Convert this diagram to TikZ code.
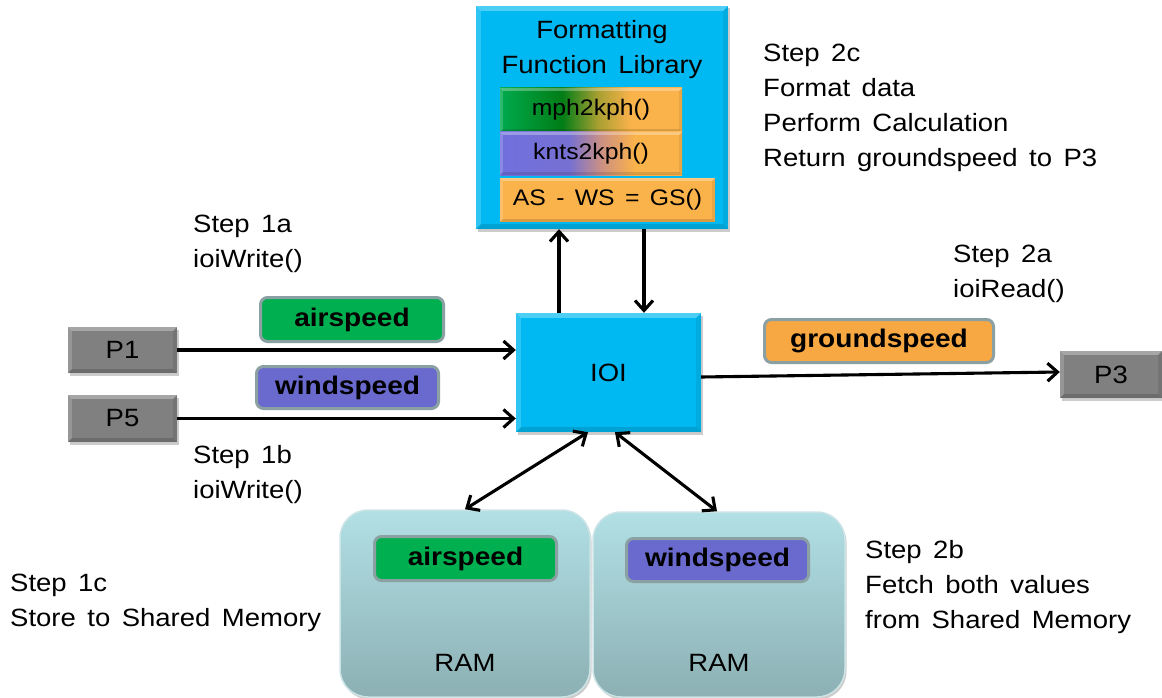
\documentclass[tikz,border=0pt]{standalone}
\usepackage{fontspec}
\setmainfont{Liberation Sans}[FakeStretch=1.1, WordSpace=1.5]
\usetikzlibrary{arrows.meta,shadows}

% palette
\definecolor{ioicyan}{RGB}{0,185,242}
\definecolor{pgray}{RGB}{128,128,128}
\definecolor{tagborder}{RGB}{138,160,162}
\definecolor{airgreen}{RGB}{0,176,80}
\definecolor{windblue}{RGB}{106,106,206}
\definecolor{gsorange}{RGB}{247,168,66}
\definecolor{fnorange}{RGB}{250,178,74}
\definecolor{mphA}{RGB}{0,170,78}
\definecolor{mphB}{RGB}{0,125,22}
\definecolor{mphC}{RGB}{170,160,50}
\definecolor{kntA}{RGB}{112,112,222}
\definecolor{kntB}{RGB}{118,112,210}
\definecolor{kntC}{RGB}{205,145,130}
\definecolor{ramtop}{RGB}{178,224,229}
\definecolor{rambot}{RGB}{140,176,180}
\definecolor{ramedge}{RGB}{205,228,231}

% gradients of the two conversion functions (middle 25--75bp spans the box)
\pgfdeclarehorizontalshading{mphshade}{100bp}{color(0bp)=(mphA); color(25bp)=(mphA); color(42bp)=(mphB); color(52bp)=(mphC); color(61bp)=(fnorange); color(100bp)=(fnorange)}
\pgfdeclarehorizontalshading{kntshade}{100bp}{color(0bp)=(kntA); color(25bp)=(kntA); color(44bp)=(kntB); color(53bp)=(kntC); color(62bp)=(fnorange); color(100bp)=(fnorange)}

% raised edges of a box: whitened top/left, darkened bottom/right
% #1 node, #2 light opacity, #3 dark opacity, #4 edge depth
\newcommand{\bevelbox}[4]{%
  \fill[white, opacity=#2] (#1.north west) -- (#1.north east) -- ([shift={(-#4,#4)}]#1.north east) -- ([shift={(#4,#4)}]#1.north west) -- cycle;
  \fill[white, opacity=#2*0.6] (#1.north west) -- ([shift={(#4,#4)}]#1.north west) -- ([shift={(#4,-#4)}]#1.south west) -- (#1.south west) -- cycle;
  \fill[black, opacity=#3] (#1.south west) -- (#1.south east) -- ([shift={(-#4,-#4)}]#1.south east) -- ([shift={(#4,-#4)}]#1.south west) -- cycle;
  \fill[black, opacity=#3*0.6] (#1.north east) -- ([shift={(-#4,#4)}]#1.north east) -- ([shift={(-#4,-#4)}]#1.south east) -- (#1.south east) -- cycle;
}

\begin{document}
\begin{tikzpicture}[x=1pt,y=-1pt,
  plain/.style={font=\fontsize{25}{35}\selectfont},
  steptext/.style={plain, anchor=north west, inner sep=0pt, align=left},
  softshadow/.style={drop shadow={shadow xshift=1.5pt, shadow yshift=-2.5pt, opacity=0.2, fill=black}},
  ioibox/.style={plain, fill=ioicyan, inner sep=0pt, softshadow},
  procbox/.style={plain, fill=pgray, inner sep=0pt, softshadow},
  fnbox/.style={font=\fontsize{22.5}{26}\selectfont, inner sep=0pt},
  tag/.style={font=\fontsize{25.5}{30}\selectfont\bfseries, draw=tagborder, line width=3pt,
              rounded corners=7pt, inner sep=0pt},
  ramblock/.style={plain, draw=ramedge, line width=1.5pt, rounded corners=28pt,
                   top color=ramtop, bottom color=rambot, inner sep=0pt, softshadow},
  tipshape/.style={},
  arr/.style={line width=3.1pt, -{Straight Barb[length=10pt,width=18pt]}},
  dbl/.style={line width=3.1pt, {Straight Barb[length=10pt,width=18pt]}-{Straight Barb[length=10pt,width=18pt]}}
]
\fill[white] (0,0) rectangle (1162,698);
\useasboundingbox (0,0) rectangle (1162,698);

% shared memory blocks
\node[ramblock, minimum width=250, minimum height=187] (ram1) at (465,603.5) {};
\node[ramblock, minimum width=252, minimum height=185] (ram2) at (719,604.5) {};
\node[plain, inner sep=0pt] (ramtxt1) at (465,663) {RAM};
\node[plain, inner sep=0pt] (ramtxt2) at (719,663) {RAM};
\node[tag, fill=airgreen, minimum width=182, minimum height=44] (ramair) at (465.5,558.5) {airspeed};
\node[tag, fill=windblue, minimum width=182, minimum height=43] (ramwind) at (717.5,560) {windspeed};

% formatting function library
\node[ioibox, minimum width=252, minimum height=223] (fmt) at (602,117.5) {};
\bevelbox{fmt}{0.3}{0.12}{5}
\node[plain, anchor=north, inner sep=0pt, align=center] (fmttitle) at (602,20) {Formatting\\Function Library};
\node[fnbox, shading=mphshade, minimum width=182, minimum height=44] (mph) at (591,110) {};
\bevelbox{mph}{0.3}{0.12}{3}
\node[fnbox] (mphtxt) at (mph.center) {mph2kph()};
\node[fnbox, shading=kntshade, minimum width=182, minimum height=43] (knt) at (591,153.5) {};
\bevelbox{knt}{0.3}{0.12}{3}
\node[fnbox] (knttxt) at (knt.center) {knts2kph()};
\node[fnbox, fill=fnorange, minimum width=215, minimum height=44] (asws) at (607.5,200) {};
\bevelbox{asws}{0.3}{0.12}{3}
\node[fnbox] (aswstxt) at (asws.center) {AS - WS = GS()};

% IO interface
\node[ioibox, minimum width=185, minimum height=119] (ioi) at (608.5,372.5) {};
\bevelbox{ioi}{0.3}{0.12}{5}
\node[plain, inner sep=0pt] (ioitxt) at (ioi.center) {IOI};

% processes
\node[procbox, minimum width=109, minimum height=46] (p1) at (122.5,350) {};
\bevelbox{p1}{0.3}{0.15}{4}
\node[plain, inner sep=0pt] (p1txt) at (p1.center) {P1};
\node[procbox, minimum width=109, minimum height=47] (p5) at (122.5,418.5) {};
\bevelbox{p5}{0.3}{0.15}{4}
\node[plain, inner sep=0pt] (p5txt) at (p5.center) {P5};
\node[procbox, minimum width=102, minimum height=47] (p3) at (1111,374.5) {};
\bevelbox{p3}{0.3}{0.15}{4}
\node[plain, inner sep=0pt] (p3txt) at (p3.center) {P3};

% data tags on the links
\node[tag, fill=airgreen, minimum width=183, minimum height=44] (airsp) at (352,319.5) {airspeed};
\node[tag, fill=windblue, minimum width=182, minimum height=42] (windsp) at (347.5,387.5) {windspeed};
\node[tag, fill=gsorange, minimum width=229, minimum height=43] (grounds) at (879,341) {groundspeed};

% connectors
\draw[arr] (p1.east) -- (p1.east -| ioi.west);
\draw[arr] (p5.east) -- (p5.east -| ioi.west);
\draw[arr] ([shift={(0,4.5)}]ioi.east) -- ([shift={(0,-2.5)}]p3.west);
\coordinate (upfoot) at ([shift={(-49.5,0)}]ioi.north);
\coordinate (downfoot) at ([shift={(35.5,0)}]ioi.north);
\draw[arr] (upfoot) -- (upfoot |- fmt.south);
\draw[arr] (downfoot |- fmt.south) -- (downfoot);
\draw[dbl] ([shift={(-20.5,0)}]ioi.south) -- (ram1.north);
\draw[dbl] ([shift={(6.5,0)}]ioi.south) -- ([shift={(-2,0)}]ram2.north);

% step notes
\node[steptext] (s1a) at (193,215) {Step 1a\\ioiWrite()};
\node[steptext] (s1b) at (193,445) {Step 1b\\ioiWrite()};
\node[steptext] (s1c) at (10,574) {Step 1c\\Store to Shared Memory};
\node[steptext] (s2a) at (953,245) {Step 2a\\ioiRead()};
\node[steptext] (s2b) at (865,540) {Step 2b\\Fetch both values\\from Shared Memory};
\node[steptext] (s2c) at (763,44) {Step 2c\\Format data\\Perform Calculation\\Return groundspeed to P3};
\end{tikzpicture}
\end{document}
